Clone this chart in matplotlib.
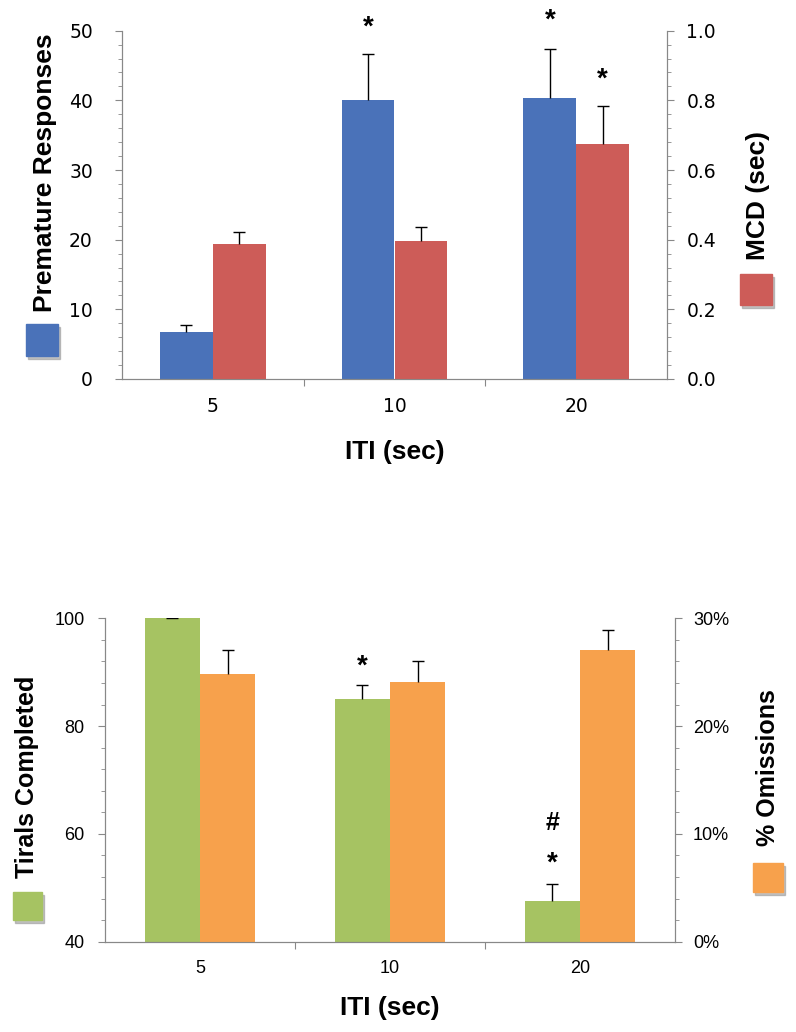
import matplotlib
matplotlib.use("Agg")
import matplotlib.pyplot as plt
from matplotlib.patches import Rectangle
from matplotlib.ticker import MultipleLocator, FuncFormatter, FixedLocator, NullFormatter

iti = ['5', '10', '20']
premature = [6.75, 40.05, 40.4]
premature_err = [0.95, 6.6, 7.0]
mcd = [0.389, 0.397, 0.675]
mcd_err = [0.032, 0.040, 0.110]
trials = [100.0, 85.0, 47.6]
trials_err = [0.1, 2.6, 3.1]
omissions = [24.8, 24.1, 27.1]
omissions_err = [2.3, 1.9, 1.8]

BLUE = '#4A72B9'
RED = '#CD5C58'
GREEN = '#A6C362'
ORANGE = '#F7A14C'
SPINE = '#888888'

W, H = 796, 1032
fig = plt.figure(figsize=(W / 100, H / 100), dpi=100)


def box(l, t, r, b):
    return [l / W, 1 - b / H, (r - l) / W, (b - t) / H]


def swatch(l, t, r, b, color):
    fig.patches.append(Rectangle((l / W + 2 / W, 1 - b / H - 3 / H), (r - l) / W, (b - t) / H,
                                 transform=fig.transFigure, color='#999999', alpha=0.6, zorder=1))
    fig.patches.append(Rectangle((l / W, 1 - b / H), (r - l) / W, (b - t) / H,
                                 transform=fig.transFigure, color=color, zorder=2))


def upper_err(ax, xs, ys, errs):
    # only the upper half of the error bar, like the original chart
    eb = ax.errorbar(xs, ys, yerr=[[0] * len(xs), errs], fmt='none', ecolor='black',
                     elinewidth=1, capsize=4, capthick=1, zorder=3)
    eb[1][0].set_visible(False)


def style(ax, ax2, tickfont, lpad, rpad, size):
    x = range(len(iti))
    ax.set_xlim(-0.5, 2.5)
    ax.xaxis.set_major_locator(FixedLocator([0.5, 1.5]))
    ax.xaxis.set_major_formatter(NullFormatter())
    ax.xaxis.set_minor_locator(FixedLocator(list(x)))
    ax.xaxis.set_minor_formatter(FuncFormatter(lambda v, p: iti[int(round(v))]))
    ax.tick_params(axis='x', which='major', length=5, color=SPINE, direction='out')
    ax.tick_params(axis='x', which='minor', length=0, pad=13, labelsize=size)
    ax.tick_params(axis='y', which='major', length=5, color=SPINE, pad=lpad, labelsize=size)
    ax.tick_params(axis='y', which='minor', length=3, color=SPINE)
    ax2.tick_params(axis='y', which='major', length=5, color=SPINE, pad=rpad, labelsize=size)
    ax2.tick_params(axis='y', which='minor', length=3, color=SPINE)
    for a in (ax, ax2):
        a.spines['top'].set_visible(False)
        for s in ('left', 'right', 'bottom'):
            a.spines[s].set_color(SPINE)
        for lab in a.get_yticklabels() + a.get_xticklabels(minor=True):
            lab.set_fontfamily(tickfont)
    ax2.set_zorder(ax.get_zorder() + 1)


bw = 0.29
x = [0, 1, 2]
xl = [i - bw / 2 for i in x]
xr = [i + bw / 2 for i in x]

# top panel
ax = fig.add_axes(box(122, 30.7, 667, 379))
ax2 = ax.twinx()
ax.bar(xl, premature, bw, color=BLUE, zorder=2)
upper_err(ax, xl, premature, premature_err)
ax2.bar(xr, mcd, bw, color=RED, zorder=2)
upper_err(ax2, xr, mcd, mcd_err)
ax.set_ylim(0, 50)
ax.yaxis.set_major_locator(MultipleLocator(10))
ax.yaxis.set_minor_locator(MultipleLocator(2))
ax2.set_ylim(0, 1.0)
ax2.yaxis.set_major_locator(MultipleLocator(0.2))
ax2.yaxis.set_minor_locator(MultipleLocator(0.04))
ax2.yaxis.set_major_formatter(FuncFormatter(lambda v, p: '%.1f' % v))
style(ax, ax2, 'DejaVu Sans', 16, 9, 13.5)

star = dict(ha='center', va='center', fontsize=20, fontweight='bold', family='Liberation Sans',
            textcoords='offset points', annotation_clip=False)
ax.annotate('*', (xl[1], premature[1] + premature_err[1]), xytext=(0, 19), **star)
ax.annotate('*', (xl[2], premature[2] + premature_err[2]), xytext=(0, 20), **star)
ax2.annotate('*', (xr[2], mcd[2] + mcd_err[2]), xytext=(0, 19), **star)

lab = dict(fontsize=19, fontweight='bold', family='Liberation Sans', ha='center', va='center')
fig.text(45 / W, 1 - 173 / H, 'Premature Responses', rotation=90, **lab)
fig.text(758 / W, 1 - 195 / H, 'MCD (sec)', rotation=90, **lab)
fig.text(395 / W, 1 - 452 / H, 'ITI (sec)', **lab)
swatch(26, 324, 58, 356, BLUE)
swatch(740, 274, 772, 305, RED)

# bottom panel
bx = fig.add_axes(box(105, 618.3, 675, 941.7))
bx2 = bx.twinx()
bx.bar(xl, trials, bw, color=GREEN, zorder=2)
upper_err(bx, xl, trials, trials_err)
bx2.bar(xr, omissions, bw, color=ORANGE, zorder=2)
upper_err(bx2, xr, omissions, omissions_err)
bx.set_ylim(40, 100)
bx.yaxis.set_major_locator(MultipleLocator(20))
bx.yaxis.set_minor_locator(MultipleLocator(4))
bx2.set_ylim(0, 30)
bx2.yaxis.set_major_locator(MultipleLocator(10))
bx2.yaxis.set_minor_locator(MultipleLocator(2))
bx2.yaxis.set_major_formatter(FuncFormatter(lambda v, p: '%d%%' % v))
style(bx, bx2, 'Liberation Sans', 9.5, 8, 13)

bx.annotate('*', (xl[1], trials[1] + trials_err[1]), xytext=(0, 13), **star)
bx.annotate('*', (xl[2], trials[2] + trials_err[2]), xytext=(0, 15), **star)
bx.annotate('#', (xl[2], trials[2] + trials_err[2]), xytext=(0, 44), ha='center', va='center',
            fontsize=18, fontweight='bold', family='Liberation Sans',
            textcoords='offset points', annotation_clip=False)

lab2 = dict(lab, fontsize=18)
fig.text(27 / W, 1 - 777 / H, 'Tirals Completed', rotation=90, **lab2)
fig.text(768 / W, 1 - 768 / H, '% Omissions', rotation=90, **lab2)
fig.text(390 / W, 1 - 1008 / H, 'ITI (sec)', **lab)
swatch(13, 892, 42, 920, GREEN)
swatch(753, 863, 783, 892, ORANGE)

fig.savefig('out.png', dpi=100)
